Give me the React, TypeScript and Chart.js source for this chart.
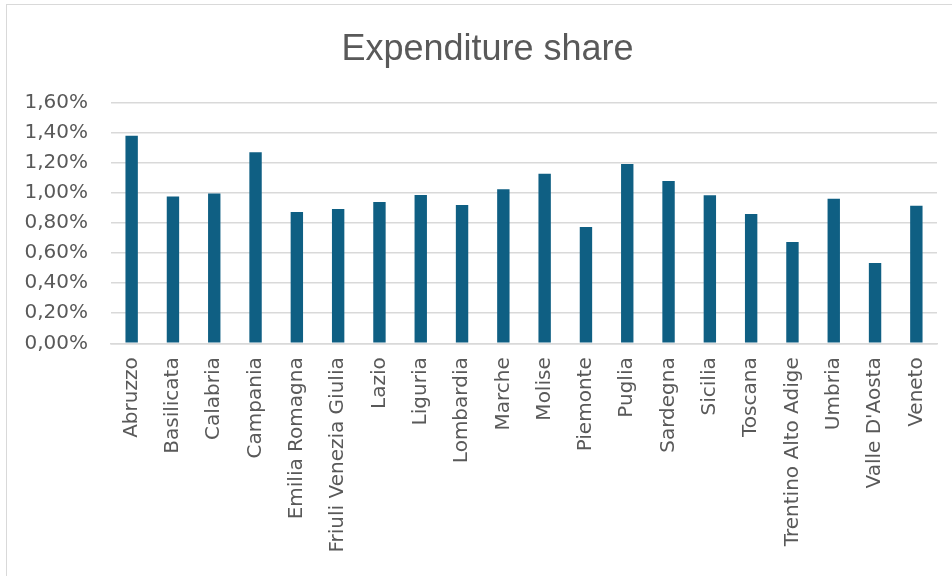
import React, { useEffect, useRef } from "react";
import { Chart, registerables } from "chart.js";

Chart.register(...registerables);

const categories = [
  "Abruzzo", "Basilicata", "Calabria", "Campania", "Emilia Romagna",
  "Friuli Venezia Giulia", "Lazio", "Liguria", "Lombardia", "Marche",
  "Molise", "Piemonte", "Puglia", "Sardegna", "Sicilia", "Toscana",
  "Trentino Alto Adige", "Umbria", "Valle D'Aosta", "Veneto",
];

const expenditureShare = [
  1.38, 0.977, 0.997, 1.27, 0.873, 0.893, 0.939, 0.986, 0.92, 1.024,
  1.128, 0.773, 1.192, 1.079, 0.984, 0.86, 0.674, 0.962, 0.534, 0.915,
];

const yMin = 0;
const yMax = 1.6;
const yStep = 0.2;

const titleText = "Expenditure share";

const CANVAS_W = 961;
const CANVAS_H = 600;

const centerTitlePlugin = {
  id: "centerTitle",
  afterLayout(chart: any) {
    const t = chart.titleBlock;
    if (t) {
      t.left = 0;
      t.right = CANVAS_W;
      t.width = CANVAS_W;
    }
  },
};

export default function App() {
  const ref = useRef<HTMLCanvasElement | null>(null);

  useEffect(() => {
    if (!ref.current) return;
    const chart = new Chart(ref.current, {
      type: "bar",
      data: {
        labels: categories,
        datasets: [
          {
            label: titleText,
            data: expenditureShare,
            backgroundColor: "#0F5F83",
            borderWidth: 0,
            categoryPercentage: 1,
            barPercentage: 0.3,
          },
        ],
      },
      plugins: [centerTitlePlugin],
      options: {
        animation: false,
        responsive: false,
        maintainAspectRatio: false,
        layout: { padding: { left: 0, right: 31, top: 0, bottom: 0 } },
        plugins: {
          legend: { display: false },
          tooltip: { enabled: false },
          title: {
            display: true,
            text: titleText,
            color: "#595959",
            font: { family: "'Liberation Sans', Arial, sans-serif", size: 36, weight: "normal" },
            padding: { top: 23, bottom: 31.5 },
          },
        },
        scales: {
          x: {
            grid: { display: false, drawTicks: false },
            border: { display: true, color: "#d9d9d9", width: 1.5 },
            ticks: {
              color: "#595959",
              font: { family: "'DejaVu Sans', sans-serif", size: 20 },
              minRotation: 90,
              maxRotation: 90,
              autoSkip: false,
              padding: 14,
            },
            afterFit: (scale: any) => {
              scale.height = CANVAS_H - 338.3;
            },
          },
          y: {
            min: yMin,
            max: yMax,
            grid: { color: "#d9d9d9", lineWidth: 1.5, drawTicks: false },
            border: { display: false },
            ticks: {
              stepSize: yStep,
              color: "#595959",
              font: { family: "'DejaVu Sans', sans-serif", size: 20 },
              padding: 23,
              callback: (v: any) => Number(v).toFixed(2).replace(".", ",") + "%",
            },
            afterFit: (scale: any) => {
              scale.width = 104;
            },
          },
        },
      },
    });
    return () => chart.destroy();
  }, []);

  return (
    <div
      style={{
        position: "fixed",
        left: 6,
        top: 4,
        width: CANVAS_W,
        height: CANVAS_H,
        border: "1px solid #d9d9d9",
        background: "#fff",
      }}
    >
      <canvas
        ref={ref}
        width={CANVAS_W}
        height={CANVAS_H}
        style={{ display: "block", width: CANVAS_W, height: CANVAS_H }}
      />
    </div>
  );
}
